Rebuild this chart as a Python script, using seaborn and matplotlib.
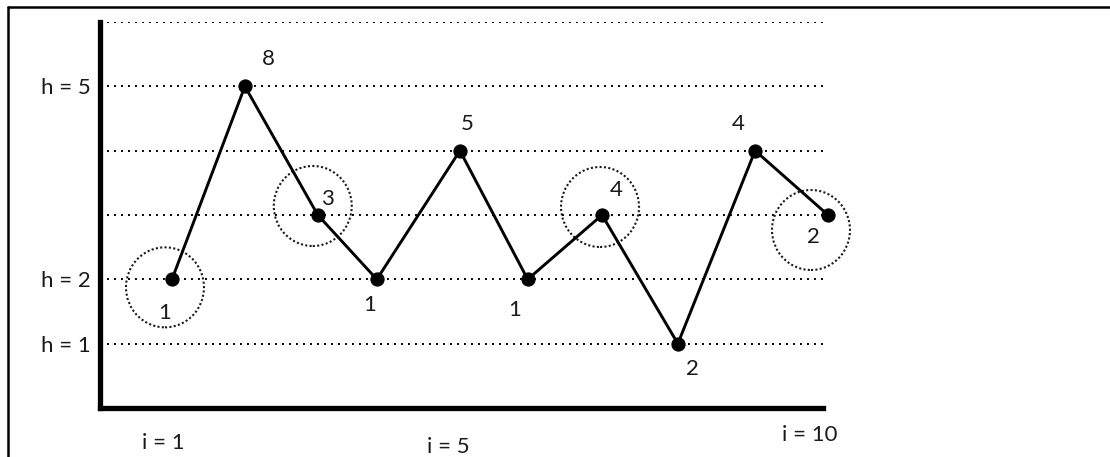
import matplotlib
matplotlib.use("Agg")
import matplotlib.pyplot as plt
import seaborn as sns
import pandas as pd
from matplotlib.patches import Ellipse
from matplotlib.lines import Line2D

# ---- data ----
positions = [1, 2, 3, 3.81, 4.95, 5.88, 6.9, 7.94, 9, 10]
heights = [2, 5, 3, 2, 4, 2, 3, 1, 4, 3]
point_labels = ["1", "8", "3", "1", "5", "1", "4", "2", "4", "2"]
circled_points = [0, 2, 6, 9]
h_ticks = [1, 2, 3, 4, 5, 6]
h_tick_labels = ["h = 1", "h = 2", "", "", "h = 5", ""]
i_labels = ["i = 1", "i = 5", "i = 10"]
i_label_pos = [0.88, 4.79, 9.75]

# ---- styling ----
label_offsets_px = [(-7, -34), (23, 27), (10, 16), (-7, -26), (7, 27),
                    (-13, -31), (14, 25), (15, -25), (-17, 27), (-15, -22)]
circle_offsets_px = {0: (-7, -8), 2: (-5, 9), 6: (-2, 8), 9: (-17, -15)}
circle_radius_px = (39, 40)
i_label_y = [-0.091, -0.101, -0.070]
FS = 16

sns.set_theme(style="white")
plt.rcParams["font.family"] = ["Lato", "DejaVu Sans"]

W, H = 1110, 457
fig = plt.figure(figsize=(W / 100, H / 100), dpi=100)
ax_l, ax_r, ax_t, ax_b = 100, 823, 22, 408
ax = fig.add_axes([ax_l / W, (H - ax_b) / H, (ax_r - ax_l) / W, (ax_b - ax_t) / H])

df = pd.DataFrame({"i": positions, "h": heights})
x_per_px = 9 / 656.0
xmin = 1 + (ax_l - 172) * x_per_px
xmax = 1 + (ax_r - 172) * x_per_px
ax.set_xlim(xmin, xmax)
ax.set_ylim(0, 6)
y_per_px = 6 / (ax_b - ax_t)

sns.lineplot(data=df, x="i", y="h", ax=ax, color="black", linewidth=2.1,
             marker="o", markersize=9.5, markeredgecolor="black",
             markerfacecolor="black", clip_on=False, zorder=5, sort=False)

ax.set_yticks(h_ticks)
ax.set_yticklabels(h_tick_labels, fontsize=FS, color="#1a1a1a")
ax.set_xticks([])
ax.tick_params(axis="y", length=0, pad=7)
ax.set_xlabel("")
ax.set_ylabel("")
ax.grid(axis="y", color="black", linewidth=1.4, linestyle=(0, (1, 2.6)))
ax.grid(axis="x", visible=False)
for s in ["top", "right"]:
    ax.spines[s].set_visible(False)
for s in ["left", "bottom"]:
    ax.spines[s].set_linewidth(3.8)
    ax.spines[s].set_color("black")
    ax.spines[s].set_capstyle("projecting")

for k, (x, y, lab) in enumerate(zip(positions, heights, point_labels)):
    dx, dy = label_offsets_px[k]
    ax.annotate(lab, (x, y), xytext=(dx, dy), textcoords="offset pixels",
                ha="center", va="center", fontsize=FS, color="#1a1a1a",
                annotation_clip=False)

for k in circled_points:
    dx, dy = circle_offsets_px[k]
    cx = positions[k] + dx * x_per_px
    cy = heights[k] + dy * y_per_px
    e = Ellipse((cx, cy), 2 * circle_radius_px[0] * x_per_px,
                2 * circle_radius_px[1] * y_per_px, fill=False,
                edgecolor="#1a1a1a", linewidth=1.5, linestyle=(0, (1, 1.1)),
                clip_on=False, zorder=4)
    ax.add_patch(e)

for lab, xp, yp in zip(i_labels, i_label_pos, i_label_y):
    ax.text(xp, yp, lab, transform=ax.get_xaxis_transform(), ha="center",
            va="center", fontsize=FS, color="#1a1a1a")

# outer frame (top and left edges)
fig.add_artist(Line2D([8 / W, 1.0], [1 - 7 / H, 1 - 7 / H], color="black",
                      linewidth=1.8, transform=fig.transFigure))
fig.add_artist(Line2D([8 / W, 8 / W], [0, 1 - 7 / H], color="black",
                      linewidth=1.8, transform=fig.transFigure))

fig.savefig("out.png", dpi=100)
